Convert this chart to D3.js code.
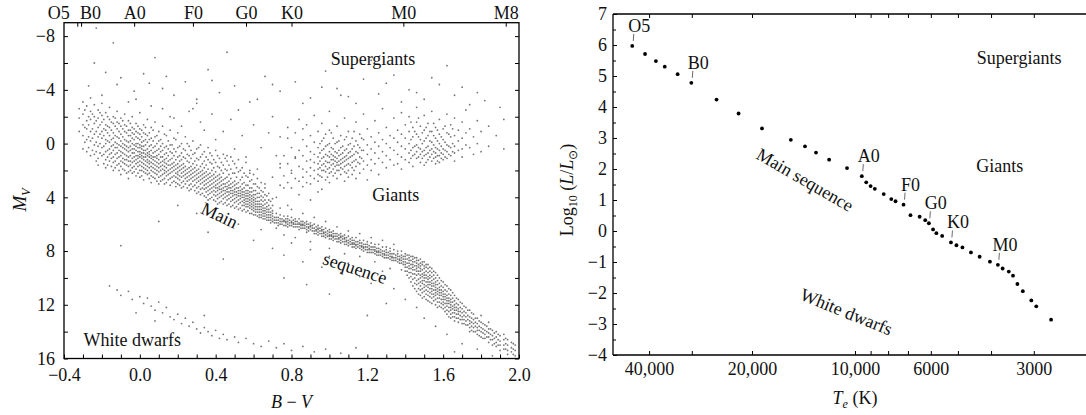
<!DOCTYPE html>
<html><head><meta charset="utf-8">
<script src="https://cdn.jsdelivr.net/npm/d3@7"></script>
<style>
body{margin:0;background:#fff;}
svg text{font-family:"Liberation Serif","Times New Roman",serif;fill:#111;}
</style></head><body>
<svg id="chart" width="1086" height="415"></svg>
<script>
// ---------------- LEFT PANEL DATA (B-V, M_V) ----------------
// columns: [B-V, Mv, Mv, ...]
const upperMainSequence = [
 [-0.32,-2.6,-1.9,-0.9],
 [-0.30,-3.1,-2.2,-1.4,-0.6,0.4],
 [-0.28,-2.8,-1.7,-1.1,-0.3,0.6],
 [-0.26,-3.4,-2.4,-1.8,-0.9,-0.2,0.9],
 [-0.24,-2.9,-2.0,-1.5,-0.7,0.1,0.8],
 [-0.22,-2.5,-1.9,-1.2,-0.5,0.2,1.1,1.6],
 [-0.20,-3.0,-2.1,-1.6,-0.9,-0.4,0.3,0.9],
 [-0.18,-2.3,-1.4,-1.0,-0.3,0.0,0.6,1.2,1.8],
 [-0.16,-2.7,-1.8,-1.2,-0.6,-0.1,0.4,0.8,1.3],
 [-0.14,-2.0,-1.5,-0.8,-0.4,0.1,0.5,1.0,1.4,2.0],
 [-0.12,-2.4,-1.6,-1.1,-0.5,0.0,0.3,0.7,1.1,1.6],
 [-0.10,-1.9,-1.3,-0.7,-0.2,0.2,0.6,0.9,1.3,1.7,2.3],
 [-0.08,-2.2,-1.4,-0.9,-0.3,0.1,0.4,0.8,1.2,1.5,2.0],
 [-0.06,-1.7,-1.0,-0.6,-0.1,0.3,0.6,1.0,1.3,1.7,2.1,2.6],
 [-0.04,-2.0,-1.2,-0.8,-0.4,0.0,0.4,0.7,1.1,1.4,1.8,2.2],
 [-0.02,-1.5,-0.9,-0.5,0.0,0.2,0.5,0.9,1.2,1.5,1.9,2.4],
 [0.00,-2.3,-1.1,-0.7,-0.3,0.1,0.3,0.6,0.8,1.0,1.3,1.6,2.0,2.5],
 [0.02,-1.4,-0.8,-0.2,0.2,0.5,0.7,1.0,1.2,1.5,1.8,2.1,2.7],
 [0.04,-1.8,-0.6,-0.1,0.4,0.7,0.9,1.2,1.4,1.7,2.0,2.3],
 [0.06,-1.2,-0.4,0.1,0.5,0.9,1.1,1.4,1.7,2.0,2.4,2.9],
 [0.08,-1.6,-0.5,0.2,0.6,1.0,1.3,1.6,1.9,2.2,2.6],
 [0.10,-0.9,-0.2,0.4,0.8,1.2,1.5,1.8,2.1,2.5,3.0],
 [0.12,-1.3,0.0,0.5,1.0,1.3,1.6,1.9,2.3,2.7],
 [0.14,-0.6,0.2,0.7,1.1,1.5,1.8,2.1,2.4,2.9],
 [0.16,-1.0,0.1,0.6,1.2,1.6,1.9,2.2,2.6,3.1],
 [0.18,-0.4,0.4,0.9,1.4,1.7,2.0,2.4,2.8],
 [0.20,-0.8,0.3,1.0,1.5,1.8,2.1,2.3,2.6,3.0],
 [0.22,0.0,0.7,1.2,1.6,1.9,2.2,2.5,2.9,3.3],
 [0.24,-0.5,0.5,1.1,1.7,2.0,2.3,2.6,3.0],
 [0.26,0.2,0.9,1.4,1.8,2.1,2.4,2.7,3.1,3.5],
 [0.28,-0.2,0.8,1.5,1.9,2.2,2.5,2.8,3.2],
 [0.30,0.4,1.1,1.6,2.0,2.3,2.6,2.9,3.3,3.7],
 [0.32,0.1,1.0,1.7,2.1,2.4,2.7,3.0,3.4,3.8],
 [0.34,0.6,1.3,1.8,2.2,2.5,2.8,3.1,3.4,3.9],
 [0.36,0.3,1.2,1.9,2.3,2.6,2.9,3.2,3.5,3.8,4.2],
 [0.38,0.9,1.5,2.0,2.4,2.7,3.0,3.3,3.6,4.0],
 [0.40,0.5,1.4,2.1,2.5,2.8,3.1,3.3,3.6,3.9,4.3],
 [0.42,1.1,1.8,2.3,2.6,2.9,3.2,3.4,3.7,4.0,4.4],
 [0.44,0.8,1.6,2.2,2.7,3.0,3.3,3.5,3.8,4.1,4.5],
 [0.46,1.3,2.0,2.5,2.9,3.2,3.4,3.6,3.9,4.2,4.6],
 [0.48,1.0,1.9,2.6,3.0,3.3,3.5,3.7,4.0,4.3,4.7],
 [0.50,1.5,2.2,2.8,3.1,3.4,3.6,3.8,4.1,4.4,4.8],
 [0.52,1.2,2.1,2.9,3.3,3.5,3.7,3.9,4.2,4.5,4.9],
 [0.54,1.8,2.5,3.0,3.4,3.6,3.8,4.0,4.3,4.6,5.0],
 [0.56,1.4,2.4,3.1,3.5,3.7,3.9,4.1,4.3,4.5,4.7,5.1],
 [0.58,2.0,2.8,3.3,3.6,3.8,4.0,4.2,4.4,4.6,4.8,5.2],
 [0.60,2.3,3.0,3.5,3.8,4.0,4.2,4.4,4.6,4.8,5.0,5.3],
 [0.62,2.6,3.2,3.7,4.0,4.3,4.5,4.7,4.9,5.1,5.4],
 [0.64,2.9,3.5,3.9,4.2,4.5,4.7,4.9,5.1,5.3,5.5],
 [0.66,3.3,3.8,4.2,4.5,4.8,5.0,5.2,5.4,5.6],
 [0.68,3.7,4.2,4.6,4.9,5.1,5.3,5.5,5.7],
 [0.70,4.1,4.6,5.0,5.2,5.4,5.6,5.8]
];
const upperMainSequenceOdd = [
 [-0.29,-2.5,-1.2,-0.1],[-0.27,-2.0,-1.4,-0.5,0.3],[-0.25,-2.2,-1.1,-0.4,0.5],
 [-0.23,-1.7,-0.9,-0.1,0.6,1.3],[-0.21,-2.3,-1.4,-0.7,0.0,0.7],
 [-0.19,-1.8,-1.1,-0.6,0.2,0.8,1.5],[-0.17,-2.0,-1.3,-0.8,-0.2,0.5,1.0,1.6],
 [-0.15,-1.6,-1.0,-0.3,0.2,0.7,1.1,1.7],[-0.13,-1.9,-1.3,-0.6,-0.1,0.3,0.8,1.3,1.8],
 [-0.11,-1.5,-0.9,-0.4,0.1,0.5,1.0,1.5,2.0],[-0.09,-1.7,-1.1,-0.5,0.0,0.3,0.7,1.1,1.4,1.9],
 [-0.07,-1.3,-0.8,-0.2,0.2,0.5,0.9,1.2,1.6,2.2],[-0.05,-1.5,-1.0,-0.6,-0.2,0.2,0.5,0.9,1.3,1.6,2.0],
 [-0.03,-1.1,-0.7,-0.3,0.1,0.4,0.7,1.0,1.3,1.7,2.1],[-0.01,-1.3,-0.8,-0.4,0.0,0.3,0.6,0.9,1.1,1.4,1.7,2.2],
 [0.01,-1.0,-0.5,-0.1,0.2,0.4,0.7,0.9,1.1,1.4,1.7,2.0,2.4],[0.03,-1.2,-0.7,-0.3,0.1,0.5,0.8,1.0,1.3,1.6,1.9,2.2],
 [0.05,-0.8,-0.3,0.2,0.6,0.8,1.0,1.3,1.5,1.8,2.2,2.6],[0.07,-1.0,-0.2,0.3,0.7,1.0,1.2,1.5,1.8,2.1,2.5],
 [0.09,-0.6,0.0,0.5,0.9,1.1,1.4,1.7,2.0,2.3,2.8],[0.11,-0.3,0.2,0.6,1.0,1.4,1.7,2.0,2.4,2.8],
 [0.13,-0.7,0.3,0.8,1.2,1.4,1.7,2.0,2.2,2.6,3.0],[0.15,-0.2,0.4,0.9,1.3,1.6,2.0,2.3,2.7],
 [0.17,0.1,0.7,1.1,1.5,1.8,2.1,2.5,2.9],[0.19,-0.3,0.6,1.2,1.6,1.9,2.2,2.5,2.9,3.2],
 [0.21,0.2,0.9,1.3,1.7,2.0,2.4,2.7,3.1],[0.23,0.4,1.0,1.5,1.8,2.1,2.4,2.8,3.2],
 [0.25,0.0,0.8,1.3,1.9,2.2,2.5,2.8,3.3],[0.27,0.5,1.1,1.7,2.0,2.3,2.6,3.0,3.4],
 [0.29,0.7,1.3,1.8,2.1,2.4,2.7,3.1,3.5],[0.31,0.3,1.2,1.9,2.2,2.5,2.8,3.2,3.6],
 [0.33,0.8,1.5,2.0,2.3,2.6,2.9,3.3,3.7],[0.35,1.0,1.6,2.1,2.4,2.7,3.0,3.3,3.6,4.0],
 [0.37,0.7,1.4,2.2,2.5,2.8,3.1,3.4,3.7,4.1],[0.39,1.2,1.8,2.3,2.6,2.9,3.2,3.5,3.8,4.2],
 [0.41,0.9,1.7,2.4,2.7,3.0,3.3,3.5,3.8,4.1,4.5],[0.43,1.4,2.0,2.5,2.8,3.1,3.4,3.6,3.9,4.3],
 [0.45,1.1,1.9,2.6,3.0,3.2,3.5,3.7,4.0,4.4],[0.47,1.6,2.3,2.8,3.1,3.3,3.6,3.8,4.1,4.5],
 [0.49,1.3,2.2,2.9,3.2,3.5,3.7,3.9,4.2,4.6],[0.51,1.8,2.5,3.0,3.3,3.6,3.8,4.0,4.3,4.7],
 [0.53,2.0,2.7,3.2,3.5,3.7,3.9,4.1,4.4,4.8],[0.55,2.2,2.9,3.3,3.6,3.8,4.0,4.2,4.4,4.6,4.9],
 [0.57,2.5,3.1,3.5,3.7,3.9,4.1,4.3,4.5,4.7,5.0],[0.59,2.7,3.3,3.6,3.9,4.1,4.3,4.5,4.7,4.9,5.2],
 [0.61,3.0,3.5,3.8,4.1,4.3,4.5,4.7,4.9,5.1,5.3],[0.63,3.3,3.7,4.0,4.3,4.5,4.7,4.9,5.1,5.3,5.5],
 [0.65,3.6,4.0,4.3,4.6,4.8,5.0,5.2,5.4,5.6],[0.67,3.9,4.4,4.7,4.9,5.1,5.3,5.5,5.7],
 [0.69,4.3,4.8,5.1,5.3,5.5,5.7,5.9]
];
const lowerMainSequence = [
 [0.72,5.2,5.5,5.7,5.9,6.3],[0.74,4.8,5.3,5.6,5.8,6.0],[0.76,5.4,5.7,5.8,6.1,6.8],
 [0.78,5.4,5.6,5.8,6.0,6.2],[0.80,4.9,5.5,5.8,5.9,6.1],[0.82,5.6,5.8,6.0,6.2,7.0],
 [0.84,5.6,5.9,6.0,6.2,6.4],[0.86,5.2,5.8,6.0,6.1,6.3],[0.88,5.8,6.0,6.2,6.4,6.6],
 [0.90,5.9,6.1,6.2,6.4,7.3],[0.92,5.5,6.0,6.3,6.5,6.7],[0.94,6.1,6.3,6.4,6.6,6.8],
 [0.96,6.2,6.4,6.5,6.7,6.9],[0.98,5.8,6.3,6.6,6.8,7.0],[1.00,6.4,6.6,6.8,6.9,7.1,7.8],
 [1.02,6.5,6.7,6.9,7.0,7.2],[1.04,6.2,6.7,6.9,7.1,7.3],[1.06,6.7,6.9,7.0,7.2,7.4],
 [1.08,6.8,7.0,7.1,7.3,7.5,8.2],[1.10,6.5,6.9,7.2,7.4,7.6],[1.12,7.0,7.2,7.4,7.5,7.7],
 [1.14,7.0,7.3,7.5,7.6,7.8],[1.16,6.7,7.2,7.4,7.6,7.8,8.4],[1.18,7.2,7.5,7.7,7.8,8.0],
 [1.20,7.3,7.5,7.7,7.9,8.1],[1.22,7.0,7.4,7.7,7.9,8.1],[1.24,7.5,7.7,7.9,8.0,8.2,8.8],
 [1.26,7.5,7.8,8.0,8.1,8.3],[1.28,7.2,7.7,8.0,8.2,8.4],[1.30,7.7,7.9,8.1,8.3,8.5],
 [1.32,7.8,8.0,8.2,8.4,8.6,9.3],[1.34,7.5,7.9,8.2,8.5,8.7],[1.36,8.0,8.2,8.4,8.6,8.8],
 [1.38,8.0,8.3,8.5,8.7,8.9,9.4],
 [0.71,5.5,5.7,5.9],[0.73,5.5,5.7,5.9,6.1],[0.75,5.6,5.8,6.0],[0.77,5.6,5.8,5.9,6.1],
 [0.79,5.7,5.9,6.1],[0.81,5.7,5.9,6.0,6.2],[0.83,5.8,6.0,6.2],[0.85,5.8,6.0,6.1,6.3],
 [0.87,5.9,6.1,6.3],[0.89,6.0,6.2,6.3,6.5],[0.91,6.1,6.3,6.5],[0.93,6.2,6.4,6.5,6.7],
 [0.95,6.3,6.5,6.7],[0.97,6.4,6.6,6.7,6.9],[0.99,6.5,6.7,6.9],[1.01,6.6,6.8,6.9,7.1],
 [1.03,6.7,6.9,7.1],[1.05,6.8,7.0,7.1,7.3],[1.07,6.9,7.1,7.3],[1.09,7.0,7.2,7.3,7.5],
 [1.11,7.1,7.3,7.5],[1.13,7.2,7.4,7.5,7.7],[1.15,7.3,7.5,7.7],[1.17,7.4,7.6,7.7,7.9],
 [1.19,7.5,7.7,7.9],[1.21,7.6,7.8,7.9,8.1],[1.23,7.7,7.9,8.1],[1.25,7.8,8.0,8.1,8.3],
 [1.27,7.9,8.1,8.3],[1.29,8.0,8.2,8.3,8.5],[1.31,8.1,8.3,8.5],[1.33,8.2,8.4,8.5,8.7],
 [1.35,8.3,8.5,8.7],[1.37,8.4,8.6,8.7,8.9],[1.39,8.4,8.6,8.8,9.0]
];
const redDwarfs = [
 [1.40,8.2,8.4,8.6,8.8,9.0,9.2,9.5],
 [1.42,8.3,8.5,8.7,8.9,9.1,9.3,9.6,10.0],
 [1.44,8.4,8.6,8.8,9.0,9.2,9.4,9.7,10.1,10.6],
 [1.46,8.5,8.7,8.9,9.1,9.3,9.5,9.8,10.2,10.5,11.0],
 [1.48,8.6,8.9,9.1,9.3,9.5,9.8,10.0,10.3,10.6,10.9,11.3],
 [1.50,8.8,9.1,9.3,9.6,9.8,10.0,10.2,10.5,10.7,11.0,11.4],
 [1.52,9.0,9.3,9.6,9.9,10.1,10.3,10.5,10.7,11.0,11.3,11.7],
 [1.54,9.3,9.6,9.9,10.2,10.4,10.6,10.8,11.0,11.2,11.5,11.9],
 [1.56,9.6,10.0,10.3,10.5,10.7,10.9,11.1,11.3,11.6,12.0],
 [1.58,10.0,10.4,10.7,10.9,11.1,11.3,11.5,11.8,12.1],
 [1.60,10.3,10.7,11.0,11.2,11.4,11.6,11.8,12.0,12.3],
 [1.62,10.6,11.0,11.3,11.5,11.7,11.9,12.1,12.4,12.7],
 [1.64,10.9,11.3,11.6,11.8,12.0,12.2,12.4,12.7,13.0],
 [1.66,11.3,11.7,12.0,12.2,12.4,12.6,12.9,13.2],
 [1.68,11.6,12.0,12.3,12.5,12.7,13.0,13.3],
 [1.70,11.9,12.3,12.6,12.9,13.1,13.4],
 [1.72,12.2,12.6,12.9,13.2,13.5],
 [1.74,12.4,12.9,13.2,13.4,13.7,14.0],
 [1.76,12.7,13.1,13.4,13.7,14.0],
 [1.78,13.0,13.4,13.7,13.9,14.2],
 [1.80,12.8,13.3,13.7,14.0,14.4],
 [1.82,13.5,13.9,14.2,14.5],
 [1.84,13.3,13.8,14.1,14.4,14.8],
 [1.86,13.9,14.3,14.6,15.0],
 [1.88,14.0,14.4,14.8,15.1],
 [1.90,14.3,14.7,15.0,15.4],
 [1.92,14.2,14.6,15.0,15.3],
 [1.94,14.6,15.0,15.4,15.7],
 [1.96,14.8,15.2,15.5],
 [1.98,15.0,15.4,15.8],
 [1.41,8.3,8.6,8.9,9.2,9.5,9.8],[1.43,8.4,8.7,9.0,9.3,9.6,9.9,10.3],
 [1.45,8.5,8.8,9.1,9.4,9.7,10.0,10.4,10.8],[1.47,8.7,9.0,9.2,9.5,9.7,10.1,10.4,10.8,11.2],
 [1.49,8.8,9.0,9.4,9.7,9.9,10.2,10.4,10.8,11.1,11.5],[1.51,9.0,9.2,9.5,9.8,10.0,10.3,10.6,10.9,11.2,11.6],
 [1.53,9.2,9.5,9.8,10.0,10.3,10.5,10.8,11.1,11.4,11.8],[1.55,9.5,9.8,10.1,10.4,10.6,10.9,11.2,11.4,11.7],
 [1.57,9.8,10.2,10.5,10.8,11.0,11.2,11.5,11.8,12.2],[1.59,10.2,10.6,10.9,11.1,11.3,11.6,11.9,12.2],
 [1.61,10.5,10.9,11.2,11.4,11.6,11.9,12.2,12.5],[1.63,10.8,11.2,11.5,11.7,11.9,12.2,12.5,12.9],
 [1.65,11.1,11.5,11.8,12.1,12.3,12.6,12.9],[1.67,11.5,11.9,12.2,12.4,12.7,13.0],
 [1.69,11.8,12.2,12.5,12.8,13.1],[1.71,12.1,12.5,12.8,13.1,13.4],[1.73,12.4,12.8,13.1,13.5],
 [1.75,12.6,13.0,13.3,13.6,13.9],[1.77,13.0,13.3,13.6,14.0],[1.79,13.2,13.6,13.9,14.3],
 [1.81,13.4,13.8,14.1,14.5],[1.83,13.6,14.0,14.4],[1.85,13.8,14.2,14.6],[1.87,14.1,14.5,14.9],
 [1.89,14.2,14.6,15.0],[1.93,14.5,14.9,15.3],[1.97,14.9,15.3,15.7]
];
const giants = [
 [0.74,-0.5,1.8,3.1],[0.76,0.9,2.4],[0.78,-1.2,1.5,2.9],[0.80,0.3,2.0,3.3],
 [0.82,-0.8,1.1,2.6],[0.84,-1.8,0.5,1.7,2.8],[0.86,-0.3,0.9,1.9,2.5,3.2],
 [0.88,-1.4,0.2,1.3,2.1,2.9],[0.90,-0.6,0.6,1.2,1.8,2.4,3.0],
 [0.92,-2.1,-0.1,0.8,1.4,2.0,2.6],[0.94,-0.9,0.3,1.0,1.5,1.9,2.3,2.8],
 [0.96,-1.5,-0.2,0.5,1.1,1.6,2.0,2.5,3.4],[0.98,-0.7,0.2,0.8,1.3,1.7,2.1,2.7],
 [1.00,-2.4,-1.0,0.0,0.6,1.0,1.4,1.8,2.2,2.9],[1.02,-0.4,0.4,0.9,1.2,1.5,1.9,2.4],
 [1.04,-1.3,-0.1,0.7,1.1,1.4,1.6,2.0,2.6],[1.06,-0.6,0.3,0.8,1.2,1.5,1.8,2.3],
 [1.08,-1.9,-0.3,0.5,1.0,1.3,1.7,2.1,2.8],[1.10,-0.9,0.1,0.7,1.1,1.5,2.0,2.5],
 [1.12,-0.4,0.4,0.9,1.4,1.8,2.3],[1.14,-1.6,-0.2,0.6,1.2,1.7,2.6],
 [1.16,-0.7,0.3,1.0,1.5,2.2],[1.18,-2.2,-0.3,0.5,1.3,1.9],[1.20,-1.1,0.1,0.8,1.6,2.7],
 [1.22,-0.5,0.4,1.2,2.0],[1.24,-1.7,-0.1,0.7,1.5],[1.26,-0.8,0.2,1.1,2.3],
 [1.28,-2.6,-0.3,0.6,1.4],[1.30,-1.2,0.0,0.9,1.8],[1.32,-0.6,0.3,1.2],
 [1.34,-1.9,-0.4,0.5,1.6],[1.36,-1.0,-0.1,0.8,1.5],[1.38,-2.3,-0.7,0.2,1.0,1.9],
 [1.40,-1.4,-0.4,0.4,1.2],[1.42,-2.0,-0.9,0.0,0.7,1.4],[1.44,-1.2,-0.5,0.3,0.9,1.7],
 [1.46,-2.7,-1.6,-0.7,0.1,0.6,1.1],[1.48,-1.3,-0.3,0.4,0.8,1.4],
 [1.50,-2.1,-1.0,-0.2,0.5,0.9,1.6],[1.52,-1.5,-0.6,0.2,0.7,1.2],
 [1.54,-2.4,-0.9,-0.1,0.4,0.8,1.3],[1.56,-1.2,-0.4,0.3,0.7,1.0,1.5],
 [1.58,-1.8,-0.7,0.0,0.5,0.9,1.4],[1.60,-1.1,-0.3,0.4,0.8,1.2],
 [1.62,-2.2,-0.8,0.1,0.6,1.1],[1.64,-1.4,-0.5,0.3,0.9],[1.66,-1.9,-0.6,0.2,0.7,1.3],
 [1.68,-1.0,-0.2,0.5],[1.70,-1.6,-0.4,0.4,1.0],[1.72,-2.5,-0.8,0.1],[1.74,-1.1,0.3],
 [1.76,-0.5,0.8],[1.78,-1.7,0.0],[1.80,-0.9,0.6],[1.84,-1.3,0.2],[1.88,-0.6],[1.92,-1.8,0.4],
 [0.95,0.0,0.7,1.3,1.8,2.4],[0.97,-0.4,0.4,1.0,1.5,2.0],[0.99,0.1,0.9,1.4,1.9,2.5],
 [1.01,-0.8,0.3,0.8,1.2,1.6,2.1],[1.03,0.0,0.6,1.0,1.3,1.7,2.2],[1.05,-0.2,0.5,0.9,1.3,1.6,2.0],
 [1.07,0.2,0.7,1.1,1.4,1.9],[1.09,-0.5,0.4,0.9,1.2,1.6,2.2],[1.11,0.0,0.6,1.0,1.6],
 [1.13,-0.9,0.2,0.8,1.3,2.0],[1.15,0.1,0.7,1.4],[1.17,-0.4,0.5,1.1],
 [1.43,-1.6,-0.3,0.5,1.1],[1.45,-0.9,0.2,0.8],[1.47,-1.9,-0.5,0.3,1.0],
 [1.49,-0.8,0.0,0.6,1.1],[1.51,-1.2,-0.4,0.3,0.8,1.4],[1.53,-0.9,-0.2,0.5,1.0],
 [1.55,-1.5,-0.6,0.1,0.6,1.1],[1.57,-1.0,-0.2,0.4,0.9,1.3],[1.59,-0.5,0.2,0.7,1.1],
 [1.61,-1.3,-0.1,0.5,1.0],[1.63,-0.7,0.2,0.8],[1.65,-1.1,0.0,0.6]
];
// single stars: [B-V, Mv]
const supergiants = [
 [-0.23,-8.6],[-0.14,-7.5],[-0.24,-6.0],[-0.18,-5.3],[-0.10,-4.9],[0.02,-5.2],[0.05,-4.5],
 [-0.03,-3.9],[0.12,-4.1],[0.18,-3.6],[0.24,-4.6],[0.30,-3.3],[0.36,-5.5],[0.42,-3.8],
 [0.50,-4.3],[0.58,-3.1],[0.66,-5.0],[0.74,-3.9],[0.82,-4.6],[0.90,-3.4],[0.98,-5.4],
 [1.04,-4.1],[1.10,-3.5],[1.18,-4.8],[1.26,-3.7],[1.34,-5.1],[1.42,-4.0],[1.50,-3.3],
 [1.58,-4.4],[1.66,-3.6],[1.74,-2.9],[1.82,-3.2],[1.90,-2.7],[0.08,-6.4],[0.46,-6.8],
 [1.22,-6.2],[1.62,-5.8],[0.28,-2.6],[-0.06,-3.1],[-0.27,-4.3],[-0.20,-3.6],[0.96,-4.2],
 [1.14,-3.0],[1.30,-4.5],[1.46,-3.8],[1.54,-4.9],[1.70,-4.2],[0.86,-3.0],[0.70,-4.4],
 [1.38,-3.1],[1.06,-3.6],[-0.12,-4.4],[0.14,-5.0],[0.38,-4.7],[1.78,-3.8]
];
const fieldStars = [
 [0.12,-2.6],[0.18,-1.9],[0.26,-2.4],[0.32,-1.6],[0.38,-2.2],[0.44,-0.9],[0.48,-1.8],
 [0.54,-0.6],[0.60,-1.4],[0.64,0.3],[0.68,-0.8],[0.72,0.9],[0.50,0.4],[0.56,1.0],
 [0.62,1.9],[0.70,2.5],[0.76,3.3],[0.80,2.2],[0.84,3.8],[0.66,3.0],[0.58,2.2],
 [0.46,0.9],[0.40,-0.3],[0.34,-1.0],[0.22,-1.3],[0.16,-2.0],[0.06,-2.8],[-0.02,-3.3],
 [0.30,-3.0],[0.52,-2.5],[0.78,-0.4],[0.74,1.5],[0.82,1.0],[0.86,-1.1],[0.70,-2.0],
 [0.62,-3.3],[0.90,4.2],[0.94,3.6],[0.78,4.6],[0.72,4.0],
 [0.52,6.0],[0.60,7.2],[0.64,6.4],[0.70,7.8],[0.76,8.3],[0.80,7.4],[0.86,8.8],[0.90,7.9],
 [0.96,9.2],[1.00,8.4],[1.06,9.6],[1.10,8.9],[1.16,9.9],[1.22,10.4],[1.28,9.5],[1.34,10.8],
 [1.40,11.6],[1.46,12.2],[1.30,11.9],[1.20,12.8],[1.50,13.0],[1.56,13.6],[0.44,8.6],
 [0.30,5.2],[0.36,6.6],[0.20,4.6],[0.10,5.8],[-0.10,7.6],[0.88,10.5],[1.00,11.2],
 [0.76,10.0],[1.62,14.2],[1.70,14.9],[1.78,15.3],[1.86,15.8],[1.66,15.5]
];
const whiteDwarfs = [
 [-0.16,10.6],[-0.12,10.9],[-0.10,11.3],[-0.06,11.0],[-0.04,11.6],[0.00,11.4],[0.02,11.9],
 [0.04,11.5],[0.06,12.1],[0.08,12.4],[0.10,11.8],[0.12,12.6],[0.14,12.2],[0.16,12.9],
 [0.18,13.1],[0.20,12.7],[0.22,13.4],[0.24,13.0],[0.26,13.6],[0.28,13.3],[0.30,13.8],
 [0.32,14.1],[0.34,13.7],[0.36,14.0],[0.38,14.3],[0.40,13.9],[0.42,14.5],[0.44,14.2],
 [0.46,14.6],[0.50,14.4],[0.52,14.8],[0.56,14.5],[0.60,14.9],[0.64,15.1],[0.68,14.7],
 [0.72,15.2],[0.76,14.9],[0.80,15.4],[0.86,15.1],[0.92,15.5],[0.98,15.3],[1.06,15.6],
 [1.14,15.2],[0.34,12.8],[0.20,14.4],[0.08,13.2],[-0.02,12.6]
];
const bvTicks = [-0.4,-0.3,-0.2,-0.1,0,0.1,0.2,0.3,0.4,0.5,0.6,0.7,0.8,0.9,1.0,1.1,1.2,1.3,1.4,1.5,1.6,1.7,1.8,1.9,2.0];
const bvLabels = [-0.4,0,0.4,0.8,1.2,1.6,2.0];
const mvTicks = [-8,-6,-4,-2,0,2,4,6,8,10,12,14,16];
const mvLabels = [-8,-4,0,4,8,12,16];
const spectralNames = ["O5","B0","A0","F0","G0","K0","M0","M8"];
const spectralBV = [-0.33,-0.31,-0.03,0.28,0.56,0.80,1.39,1.93];

// ---------------- RIGHT PANEL DATA (T_e, log L) ----------------
const msTemp = [44800,41100,38200,36000,33000,30100,25400,21900,18700,15400,14000,13000,11900,10550,
 9550,9270,9000,8750,8240,7830,7610,7210,6880,6470,6230,6080,5910,5780,5560,5240,5050,4850,
 4580,4320,4030,3820,3700,3550,3450,3350,3230,3050,2950,2670];
const msLogL = [5.97,5.71,5.48,5.30,5.06,4.78,4.24,3.79,3.31,2.94,2.73,2.53,2.30,2.03,
 1.77,1.57,1.45,1.36,1.19,1.03,0.96,0.85,0.51,0.46,0.35,0.25,0.05,-0.07,-0.16,-0.37,-0.46,-0.53,
 -0.69,-0.83,-0.99,-1.09,-1.21,-1.31,-1.44,-1.71,-1.94,-2.24,-2.43,-2.86];
const msSpectral = ["O5",null,null,null,null,"B0",null,null,null,null,null,null,null,null,
 "A0",null,null,null,null,null,null,"F0",null,null,null,"G0",null,null,null,"K0",null,null,
 null,null,null,"M0",null,null,null,null,null,null,null,null];
const tempTicks = [40000,30000,20000,10000,9000,8000,7000,6000,5000,4000,3000];
const tempLabels = ["40,000","","20,000","10,000","","","","6000","","","3000"];
const lumTicks = [-4,-3,-2,-1,0,1,2,3,4,5,6,7];
const lumMinor = [-3.5,-2.5,-1.5,-0.5,0.5,1.5,2.5,3.5,4.5,5.5,6.5];

// ---------------- DRAWING ----------------
const svg = d3.select("#chart");
const FS = 18;

// ===== Left panel =====
const lx = d3.scaleLinear().domain([-0.4, 2.0]).range([64, 519]);
const ly = d3.scaleLinear().domain([-9, 16]).range([22.7, 358.5]);
const L = svg.append("g");

function expand(cols){ const out=[]; cols.forEach(c=>c.slice(1).forEach(m=>out.push([c[0],m]))); return out; }
const allStars = [].concat(expand(upperMainSequence), expand(upperMainSequenceOdd), expand(lowerMainSequence),
  expand(redDwarfs), expand(giants), supergiants, fieldStars, whiteDwarfs);

L.append("g").selectAll("circle").data(allStars).join("circle")
  .attr("cx", d => lx(d[0])).attr("cy", d => ly(d[1])).attr("r", 0.9)
  .attr("fill", "#222").attr("fill-opacity", 0.62);

function styleAxis(g){
  g.select(".domain").remove();
  g.selectAll(".tick line").attr("stroke","#000").attr("stroke-width",1);
  g.selectAll(".tick text").attr("font-size",FS).attr("font-family","Liberation Serif, serif").attr("fill","#111");
}
const fmt1 = d3.format(".1f");
L.append("g").attr("transform",`translate(0,${ly(16)})`)
  .call(d3.axisBottom(lx).tickValues(bvTicks).tickSize(-4).tickPadding(10)
    .tickFormat(d => bvLabels.some(v=>Math.abs(v-d)<1e-9) ? fmt1(d) : ""))
  .call(styleAxis);
L.append("g").attr("transform",`translate(${lx(-0.4)},0)`)
  .call(d3.axisLeft(ly).tickValues(mvTicks).tickSize(-4).tickPadding(9)
    .tickFormat(d => mvLabels.includes(d) ? d3.format("d")(d) : ""))
  .call(styleAxis);
L.append("g").attr("transform",`translate(${lx(2.0)},0)`)
  .call(d3.axisRight(ly).tickValues(mvTicks).tickSize(-4).tickFormat(""))
  .call(styleAxis);
const topAx = L.append("g").attr("transform",`translate(0,${ly(-9)})`)
  .call(d3.axisTop(lx).tickValues(spectralBV).tickSize(-4).tickPadding(4)
    .tickFormat((d,i) => spectralNames[i]))
  .call(styleAxis);
// nudge the crowded O5/B0 labels apart
topAx.selectAll(".tick text").attr("dx", (d,i) => i===0 ? -19 : (i===1 ? 9 : 0));

L.append("rect").attr("x", lx(-0.4)).attr("y", ly(-9))
  .attr("width", lx(2.0)-lx(-0.4)).attr("height", ly(16)-ly(-9))
  .attr("fill","none").attr("stroke","#000").attr("stroke-width",1.3);

// axis titles
const bvt = L.append("text").attr("x", (lx(-0.4)+lx(2.0))/2).attr("y", 408)
  .attr("text-anchor","middle").attr("font-size",FS);
bvt.append("tspan").attr("font-style","italic").text("B");
bvt.append("tspan").text(" \u2212 ");
bvt.append("tspan").attr("font-style","italic").text("V");
const mvt = L.append("text").attr("transform","translate(26,200) rotate(-90)")
  .attr("text-anchor","middle").attr("font-size",FS+1);
mvt.append("tspan").attr("font-style","italic").text("M");
mvt.append("tspan").attr("font-style","italic").attr("font-size",12).attr("dy",4).text("V");

// region labels
function label(g, x, y, txt, rot){
  g.append("text").attr("transform",`translate(${x},${y}) rotate(${rot||0})`)
   .attr("text-anchor","middle").attr("dominant-baseline","central")
   .attr("font-size",FS).text(txt);
}
label(L, lx(1.23), ly(-6.3), "Supergiants");
label(L, lx(1.35), ly(3.8), "Giants");
label(L, lx(0.42), ly(5.34), "Main", 25);
label(L, lx(1.135), ly(9.28), "sequence", 18);
label(L, lx(-0.04), ly(14.65), "White dwarfs");

// ===== Right panel =====
const rx = d3.scaleLog().domain([51000, 2000]).range([613, 1094]);
const ry = d3.scaleLinear().domain([-4, 7]).range([355, 14]);
const R = svg.append("g");

R.append("g").attr("transform",`translate(0,${ry(-4)})`)
  .call(d3.axisBottom(rx).tickValues(tempTicks).tickSize(-4).tickPadding(7)
    .tickFormat((d,i) => tempLabels[i]))
  .call(styleAxis);
R.append("g").attr("transform",`translate(0,${ry(7)})`)
  .call(d3.axisTop(rx).tickValues(tempTicks).tickSize(-4).tickFormat(""))
  .call(styleAxis);
R.append("g").attr("transform",`translate(${rx(51000)},0)`)
  .call(d3.axisLeft(ry).tickValues(lumTicks).tickSize(-4).tickPadding(6)
    .tickFormat(d3.format("d")))
  .call(styleAxis);
R.append("g").attr("transform",`translate(${rx(51000)},0)`)
  .call(d3.axisLeft(ry).tickValues(lumMinor).tickSize(-3).tickFormat(""))
  .call(styleAxis);

// frame lines
R.append("line").attr("x1",rx(51000)).attr("x2",rx(51000)).attr("y1",ry(7)).attr("y2",ry(-4))
  .attr("stroke","#000").attr("stroke-width",1.3);
R.append("line").attr("x1",rx(51000)).attr("x2",1086).attr("y1",ry(7)).attr("y2",ry(7))
  .attr("stroke","#000").attr("stroke-width",1.3);
R.append("line").attr("x1",rx(51000)).attr("x2",1086).attr("y1",ry(-4)).attr("y2",ry(-4))
  .attr("stroke","#000").attr("stroke-width",1.3);

const msPts = msTemp.map((t,i) => ({t, l: msLogL[i], s: msSpectral[i]}));
R.append("g").selectAll("circle").data(msPts).join("circle")
  .attr("cx", d => rx(d.t)).attr("cy", d => ry(d.l)).attr("r", 1.9).attr("fill","#000");

const lab = R.append("g").selectAll("g").data(msPts.filter(d => d.s)).join("g")
  .attr("transform", d => `translate(${rx(d.t)},${ry(d.l)})`);
lab.append("line").attr("x1",1).attr("x2",1.5).attr("y1",-5).attr("y2",-12)
  .attr("stroke","#444").attr("stroke-width",0.8);
lab.append("text").attr("x",7).attr("y",-14).attr("text-anchor","middle")
  .attr("font-size",FS).text(d => d.s);

// titles
const tt = R.append("text").attr("x", rx(10000)).attr("y", 404).attr("text-anchor","middle").attr("font-size",FS);
tt.append("tspan").attr("font-style","italic").text("T");
tt.append("tspan").attr("font-style","italic").attr("font-size",12).attr("dy",4).text("e");
tt.append("tspan").attr("dy",-4).text(" (K)");
const lt = R.append("text").attr("transform","translate(573,190) rotate(-90)")
  .attr("text-anchor","middle").attr("font-size",FS);
lt.append("tspan").text("Log");
lt.append("tspan").attr("font-size",12).attr("dy",4).text("10");
lt.append("tspan").attr("dy",-4).text(" (");
lt.append("tspan").attr("font-style","italic").text("L");
lt.append("tspan").text("/");
lt.append("tspan").attr("font-style","italic").text("L");
lt.append("tspan").attr("font-size",12).attr("dy",4).text("\u2299");
lt.append("tspan").attr("dy",-4).text(")");

label(R, rx(3310), ry(5.58), "Supergiants");
label(R, rx(3770), ry(2.10), "Giants");
label(R, rx(14000), ry(1.65), "Main sequence", 30);
label(R, rx(10600), ry(-2.61), "White dwarfs", 22);
</script>
</body></html>
